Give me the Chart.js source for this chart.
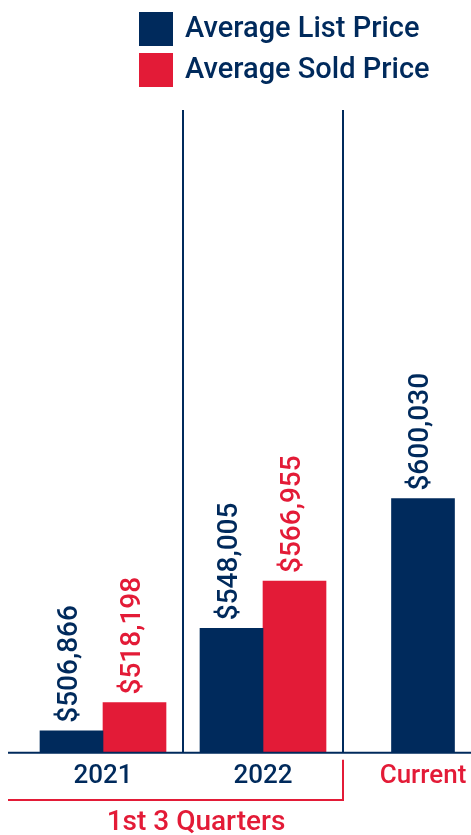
<!DOCTYPE html>
<html><head><meta charset="utf-8">
<script src="https://cdn.jsdelivr.net/npm/chart.js@4"></script>
<style>html,body{margin:0;padding:0;background:#fff;overflow:hidden;width:471px;height:835px}#wrap{width:503px;height:835px;position:relative}</style>
</head><body><div id="wrap"><canvas id="c"></canvas></div>
<script>
const categories = ["2021", "2022", "Current"];
const listPrice = [506866, 548005, 600030];
const soldPrice = [518198, 566955, null];
const seriesNames = ["Average List Price", "Average Sold Price"];
const groupLabel = "1st 3 Quarters";

const NAVY = "#002a5c", RED = "#e31b37";
const FONT = "Roboto";

const deco = {
  id: 'deco',
  afterDraw(chart) {
    const ctx = chart.ctx, area = chart.chartArea, xs = chart.scales.x;
    ctx.save();
    // baseline
    ctx.strokeStyle = NAVY; ctx.lineWidth = 2;
    ctx.beginPath(); ctx.moveTo(8, area.bottom); ctx.lineTo(chart.width, area.bottom); ctx.stroke();
    // value labels
    chart.data.datasets.forEach((ds, di) => {
      const meta = chart.getDatasetMeta(di);
      meta.data.forEach((bar, i) => {
        const v = ds.data[i];
        if (v == null) return;
        ctx.save();
        ctx.translate(bar.x - 2, bar.y - 8);
        ctx.rotate(-Math.PI / 2);
        ctx.font = '500 28px ' + FONT;
        ctx.fillStyle = ds.backgroundColor;
        ctx.textAlign = 'left'; ctx.textBaseline = 'middle';
        ctx.fillText('$' + v.toLocaleString('en-US'), 0, 0);
        ctx.restore();
      });
    });
    // legend
    chart.data.datasets.forEach((ds, di) => {
      const y = 12 + di * 41;
      ctx.fillStyle = ds.backgroundColor;
      ctx.fillRect(139, y, 34, 34);
      ctx.fillStyle = NAVY;
      ctx.font = '500 29px ' + FONT;
      ctx.textAlign = 'left'; ctx.textBaseline = 'middle';
      ctx.fillText(ds.label, 185, y + 18);
    });
    // bracket for first group
    const sep = (xs.getPixelForValue(1) + xs.getPixelForValue(2)) / 2;
    ctx.strokeStyle = RED; ctx.lineWidth = 2;
    ctx.beginPath();
    ctx.moveTo(8, 800); ctx.lineTo(sep, 800); ctx.lineTo(sep, area.bottom + 7);
    ctx.stroke();
    ctx.fillStyle = RED;
    ctx.font = '500 28px ' + FONT;
    ctx.textAlign = 'center'; ctx.textBaseline = 'alphabetic';
    const mid = (xs.getPixelForValue(0) + xs.getPixelForValue(1)) / 2;
    ctx.fillText(groupLabel, mid + 13, 830);
    ctx.restore();
  }
};

new Chart(document.getElementById('c'), {
  type: 'bar',
  data: {
    labels: categories,
    datasets: [
      { label: seriesNames[0], data: listPrice, backgroundColor: NAVY },
      { label: seriesNames[1], data: soldPrice, backgroundColor: RED }
    ]
  },
  options: {
    responsive: true,
    maintainAspectRatio: false,
    animation: false,
    layout: { padding: { top: 110, left: 23, right: 0, bottom: 35 } },
    datasets: { bar: { barThickness: 63, skipNull: true } },
    plugins: { legend: { display: false }, tooltip: { enabled: false } },
    scales: {
      x: {
        grid: {
          offset: true, drawTicks: false, lineWidth: 2,
          color: (c) => (c.index === 0 ? 'rgba(0,0,0,0)' : NAVY)
        },
        border: { display: false },
        ticks: {
          padding: 8,
          font: { family: FONT, size: 26, weight: '500' },
          color: (c) => (c.index === 2 ? RED : NAVY)
        }
      },
      y: { display: false, min: 498000, max: 756000 }
    }
  },
  plugins: [deco]
});
</script></body></html>
